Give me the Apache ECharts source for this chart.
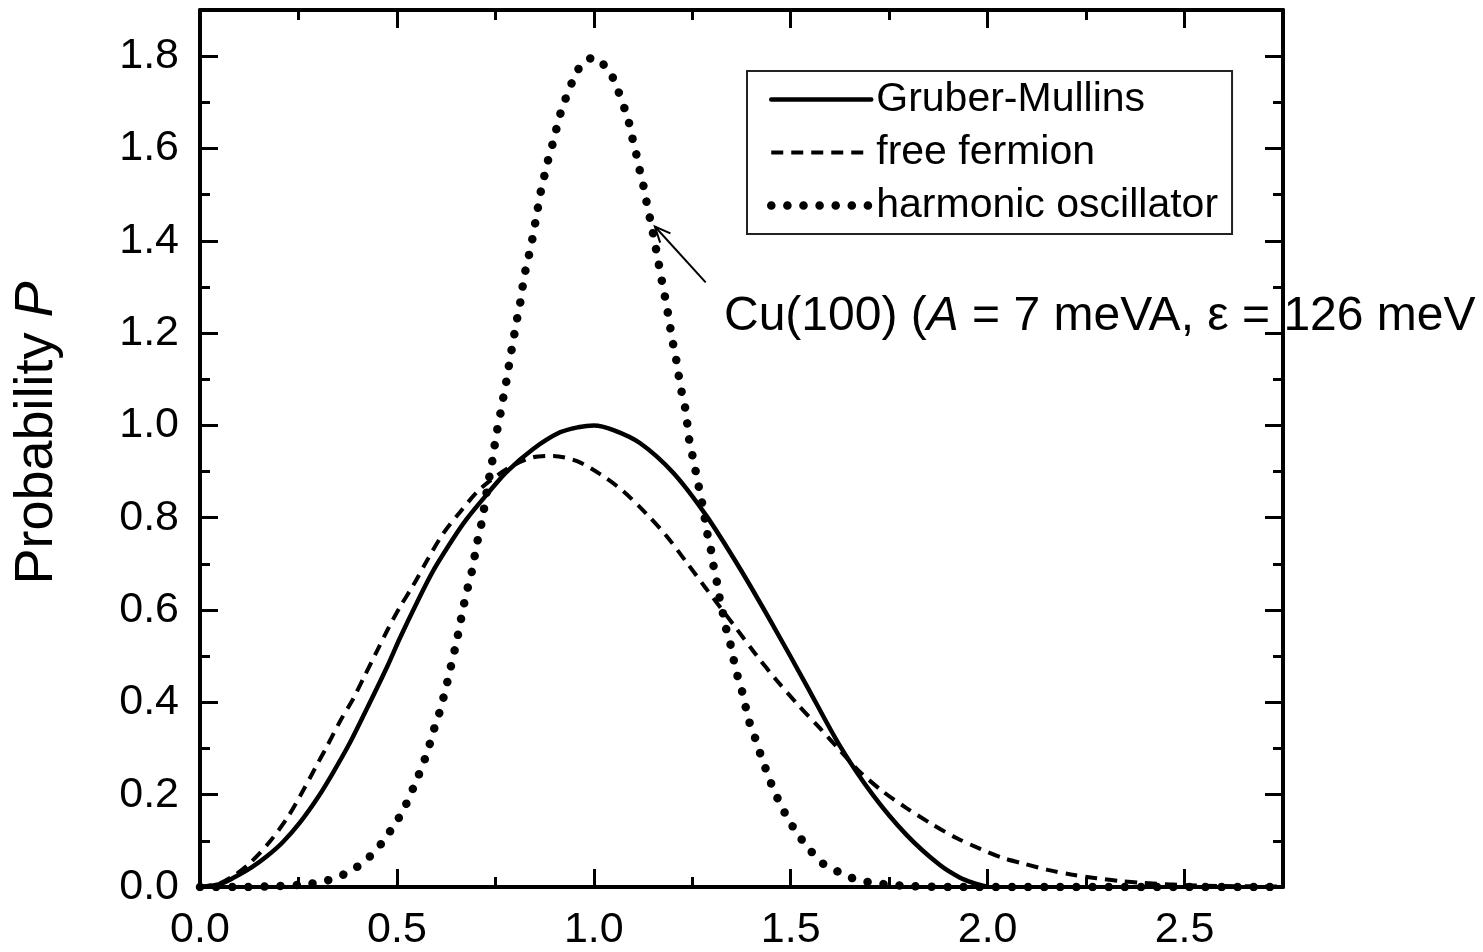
<!DOCTYPE html>
<html><head><meta charset="utf-8">
<script src="https://cdn.jsdelivr.net/npm/echarts@6/dist/echarts.min.js"></script>
<style>html,body{margin:0;padding:0;background:#fff;}#c{width:1483px;height:952px;}</style>
</head><body><div id="c"></div>
<script>
// ---- data ----
const seriesNames = ['Gruber-Mullins', 'free fermion', 'harmonic oscillator'];
const xTickLabels = ['0.0', '0.5', '1.0', '1.5', '2.0', '2.5'];
const yTickLabels = ['0.0', '0.2', '0.4', '0.6', '0.8', '1.0', '1.2', '1.4', '1.6', '1.8'];

const gmX = [0, 0.05, 0.085, 0.13, 0.169, 0.21, 0.254, 0.30, 0.338, 0.381, 0.423, 0.474, 0.508, 0.55, 0.592, 0.643, 0.677, 0.728, 0.778, 0.846, 0.914, 0.96, 1.0, 1.05, 1.117, 1.201, 1.286, 1.371, 1.455, 1.54, 1.624, 1.709, 1.794, 1.878, 1.93, 1.963, 2.0];
const gmY = [0, 0.006, 0.02, 0.042, 0.066, 0.097, 0.14, 0.195, 0.248, 0.313, 0.385, 0.475, 0.54, 0.615, 0.685, 0.755, 0.797, 0.85, 0.899, 0.949, 0.985, 0.996, 1.0, 0.99, 0.962, 0.898, 0.804, 0.69, 0.567, 0.437, 0.307, 0.199, 0.113, 0.048, 0.02, 0.009, 0];

const ffX = [0, 0.05, 0.09, 0.127, 0.178, 0.224, 0.258, 0.292, 0.322, 0.355, 0.389, 0.419, 0.448, 0.478, 0.508, 0.541, 0.579, 0.617, 0.66, 0.711, 0.778, 0.846, 0.897, 0.956, 1.015, 1.074, 1.134, 1.184, 1.235, 1.282, 1.362, 1.413, 1.464, 1.515, 1.574, 1.624, 1.675, 1.734, 1.794, 1.861, 1.921, 1.98, 2.035, 2.094, 2.153, 2.212, 2.276, 2.335, 2.394, 2.5, 2.6, 2.75];
const ffY = [0, 0.008, 0.027, 0.052, 0.099, 0.153, 0.203, 0.257, 0.304, 0.358, 0.408, 0.459, 0.509, 0.56, 0.607, 0.653, 0.711, 0.765, 0.812, 0.862, 0.905, 0.931, 0.934, 0.923, 0.895, 0.858, 0.808, 0.761, 0.704, 0.65, 0.56, 0.502, 0.448, 0.398, 0.344, 0.297, 0.25, 0.207, 0.171, 0.135, 0.106, 0.083, 0.064, 0.05, 0.037, 0.027, 0.019, 0.013, 0.009, 0.004, 0.002, 0.001];

const hoX = [0, 0.1, 0.2, 0.27, 0.313, 0.351, 0.391, 0.431, 0.465, 0.492, 0.516, 0.552, 0.567, 0.58, 0.592, 0.605, 0.616, 0.626, 0.635, 0.653, 0.668, 0.677, 0.687, 0.695, 0.702, 0.711, 0.719, 0.725, 0.739, 0.746, 0.751, 0.76, 0.766, 0.774, 0.787, 0.801, 0.808, 0.816, 0.821, 0.829, 0.838, 0.846, 0.853, 0.867, 0.876, 0.886, 0.897, 0.907, 0.918, 0.948, 0.971, 1.0, 1.041, 1.06, 1.087, 1.096, 1.106, 1.114, 1.124, 1.132, 1.148, 1.163, 1.17, 1.178, 1.185, 1.192, 1.198, 1.206, 1.213, 1.219, 1.227, 1.235, 1.239, 1.245, 1.254, 1.262, 1.278, 1.284, 1.291, 1.3, 1.306, 1.315, 1.321, 1.33, 1.338, 1.35, 1.358, 1.368, 1.379, 1.388, 1.398, 1.413, 1.426, 1.441, 1.455, 1.474, 1.495, 1.52, 1.55, 1.586, 1.629, 1.667, 1.71, 1.75, 1.8, 1.9, 2.75];
const hoY = [0, 0, 0.002, 0.006, 0.012, 0.022, 0.039, 0.066, 0.099, 0.133, 0.166, 0.236, 0.268, 0.3, 0.336, 0.369, 0.403, 0.437, 0.47, 0.538, 0.603, 0.639, 0.671, 0.704, 0.74, 0.772, 0.808, 0.841, 0.909, 0.941, 0.976, 1.01, 1.044, 1.076, 1.143, 1.211, 1.244, 1.279, 1.312, 1.346, 1.379, 1.413, 1.447, 1.514, 1.546, 1.582, 1.615, 1.649, 1.683, 1.75, 1.784, 1.797, 1.764, 1.729, 1.663, 1.629, 1.595, 1.562, 1.527, 1.492, 1.426, 1.359, 1.325, 1.291, 1.258, 1.224, 1.19, 1.158, 1.123, 1.089, 1.057, 1.024, 0.987, 0.956, 0.921, 0.886, 0.819, 0.787, 0.753, 0.72, 0.684, 0.651, 0.617, 0.585, 0.552, 0.516, 0.48, 0.448, 0.416, 0.381, 0.349, 0.315, 0.28, 0.246, 0.214, 0.179, 0.145, 0.112, 0.079, 0.048, 0.03, 0.016, 0.009, 0.005, 0.002, 0, 0];

const annotationText = 'Cu(100) (';
const annotationItalic = 'A';
const annotationRest = ' = 7 meVA, \u03b5 = 126 meV';
const arrowTip = [1.155, 1.431];
const arrowTail = [1.284, 1.31];
// --------------------------------------

const FONT = '"Liberation Sans", Arial, Helvetica, sans-serif';
const chart = echarts.init(document.getElementById('c'), null, {renderer: 'canvas'});
const pairs = (xs, ys) => xs.map((x, i) => [x, ys[i]]);

function xAxisDef(pos, interval, tickLen, showLine, showLabel) {
  return {
    type: 'value', position: pos, min: 0, max: 2.75, interval: interval,
    axisLine: {show: showLine, onZero: false, lineStyle: {color: '#000', width: 4}},
    axisTick: {show: true, inside: true, length: tickLen, lineStyle: {color: '#000', width: 3}},
    axisLabel: {show: showLabel, color: '#000', fontSize: 43, fontFamily: FONT, margin: 22,
      showMaxLabel: false,
      formatter: v => { const i = Math.round(v / 0.5); return Math.abs(i * 0.5 - v) < 1e-6 ? (xTickLabels[i] || '') : ''; }},
    splitLine: {show: false}
  };
}
function yAxisDef(pos, interval, tickLen, showLine, showLabel) {
  return {
    type: 'value', position: pos, min: 0, max: 1.9, interval: interval,
    axisLine: {show: showLine, onZero: false, lineStyle: {color: '#000', width: 4}},
    axisTick: {show: true, inside: true, length: tickLen, lineStyle: {color: '#000', width: 3}},
    axisLabel: {show: showLabel, color: '#000', fontSize: 43, fontFamily: FONT, margin: 21,
      showMaxLabel: false,
      formatter: v => { const i = Math.round(v / 0.2); return Math.abs(i * 0.2 - v) < 1e-6 ? (yTickLabels[i] || '') : ''; }},
    splitLine: {show: false}
  };
}

const styles = [
  {color: '#000', width: 4.5, type: 'solid', cap: 'round', join: 'round'},
  {color: '#000', width: 4, type: [12, 8], cap: 'butt'},
  {color: '#000', width: 8.5, type: [0.1, 16], cap: 'round'}
];

const option = {
  animation: false,
  backgroundColor: '#fff',
  grid: {left: 200, right: 200, top: 10, bottom: 63, containLabel: false},
  xAxis: [
    xAxisDef('bottom', 0.5, 18, true, true),
    xAxisDef('bottom', 0.25, 10, false, false),
    xAxisDef('top', 0.5, 18, true, false),
    xAxisDef('top', 0.25, 10, false, false)
  ],
  yAxis: [
    yAxisDef('left', 0.2, 18, true, true),
    yAxisDef('left', 0.1, 10, false, false),
    yAxisDef('right', 0.2, 18, true, false),
    yAxisDef('right', 0.1, 10, false, false)
  ],
  legend: {
    orient: 'vertical', left: 747, top: 71,
    padding: [8, 14, 8, 20], itemGap: 12, itemWidth: 100, itemHeight: 20, itemTextGap: 4,
    borderColor: '#222', borderWidth: 2, borderRadius: 0,
    selectedMode: false,
    itemStyle: {color: 'rgba(0,0,0,0)', borderColor: 'rgba(0,0,0,0)', borderWidth: 0, opacity: 0},
    textStyle: {fontSize: 41, color: '#000', fontFamily: FONT},
    data: seriesNames.map((n, i) => ({name: n, lineStyle: {width: styles[i].width, color: '#000', type: styles[i].type, cap: styles[i].cap}}))
  },
  series: seriesNames.map((n, i) => ({
    name: n, type: 'line', symbol: 'none', smooth: 0.3,
    data: i === 0 ? pairs(gmX, gmY) : i === 1 ? pairs(ffX, ffY) : pairs(hoX, hoY),
    itemStyle: {color: '#000'},
    lineStyle: styles[i], z: i === 0 ? 3 : 2
  })),
  graphic: [
    {type: 'text', id: 'ylabel', x: 37, y: 433, rotation: Math.PI / 2,
      style: {text: '{n|Probability }{i|P}', align: 'center', verticalAlign: 'middle', fill: '#000',
        rich: {n: {fontSize: 54, fontFamily: FONT, fill: '#000'}, i: {fontSize: 54, fontFamily: FONT, fontStyle: 'italic', fill: '#000'}}}},
    {type: 'text', id: 'annot', x: 724, y: 317,
      style: {text: '{n|' + annotationText + '}{i|' + annotationItalic + '}{n|' + annotationRest + '}', align: 'left', verticalAlign: 'middle', fill: '#000',
        rich: {n: {fontSize: 48, fontFamily: FONT, fill: '#000'}, i: {fontSize: 48, fontFamily: FONT, fontStyle: 'italic', fill: '#000'}}}}
  ]
};
chart.setOption(option);

// arrow anchored in data coordinates
const tip = chart.convertToPixel({seriesIndex: 2}, arrowTip);
const tail = chart.convertToPixel({seriesIndex: 2}, arrowTail);
const ang = Math.atan2(tail[1] - tip[1], tail[0] - tip[0]);
const hl = 17, ha = 0.42;
const h1 = [tip[0] + hl * Math.cos(ang + ha), tip[1] + hl * Math.sin(ang + ha)];
const h2 = [tip[0] + hl * Math.cos(ang - ha), tip[1] + hl * Math.sin(ang - ha)];
chart.setOption({graphic: [
  {type: 'line', id: 'shaft', shape: {x1: tail[0], y1: tail[1], x2: tip[0], y2: tip[1]}, style: {stroke: '#000', lineWidth: 2}, z: 10},
  {type: 'polyline', id: 'head', shape: {points: [h1, tip, h2]}, style: {stroke: '#000', lineWidth: 2, fill: null}, z: 10}
]});
</script></body></html>
